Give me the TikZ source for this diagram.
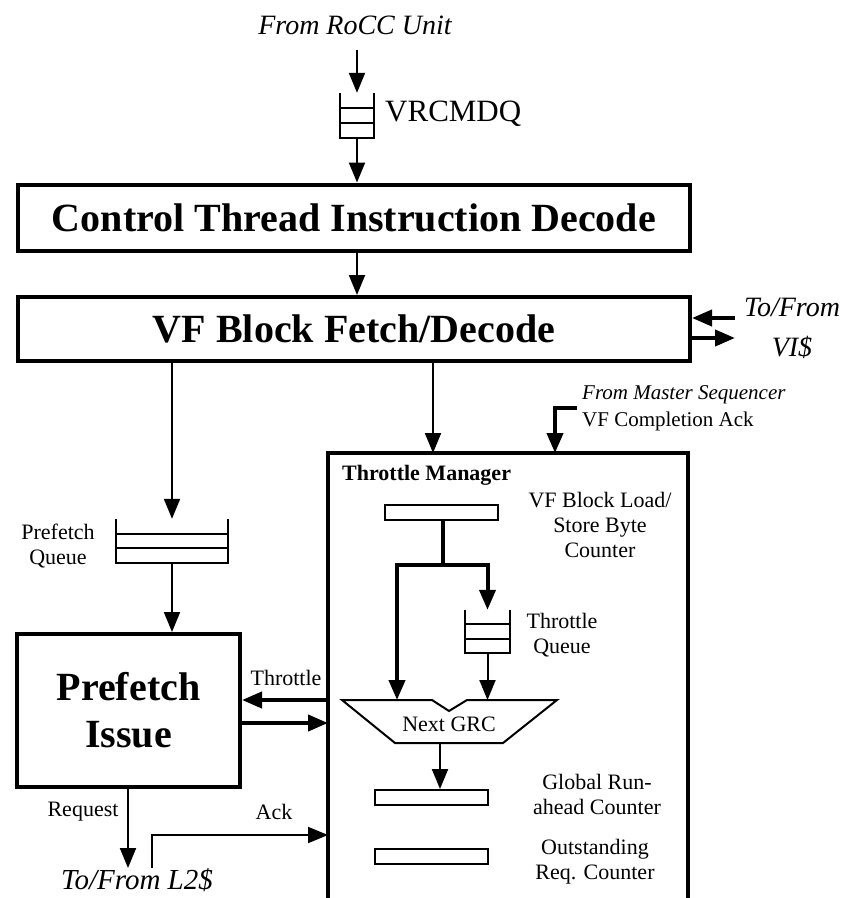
\documentclass[tikz,border=0pt]{standalone}
\usepackage{fontspec}
\setmainfont{Liberation Serif}
\usetikzlibrary{arrows.meta,calc}
\newcommand\queuelines[1]{%
  \draw[thinln] (#1.north west) -- (#1.south west) -- (#1.south east) -- (#1.north east);
  \draw[thinln] ($(#1.north west)!1/3!(#1.south west)$) -- ($(#1.north east)!1/3!(#1.south east)$);
  \draw[thinln] ($(#1.north west)!2/3!(#1.south west)$) -- ($(#1.north east)!2/3!(#1.south east)$);
}
\begin{document}
\begin{tikzpicture}[x=1pt,y=-1pt,
  bigbox/.style={draw,line width=4pt,inner sep=0pt,align=center},
  thinln/.style={line width=2pt},
  arr/.style={line width=2pt,-{Triangle[length=20pt,width=16pt]}},
  tarr/.style={line width=4pt,-{Triangle[length=20pt,width=16pt]}},
  lbl/.style={font=\fontsize{22}{25}\selectfont,align=center,inner sep=0pt},
  qnode/.style={inner sep=0pt,minimum width=#1},
  ctr/.style={draw,line width=2pt,inner sep=0pt,minimum width=113pt,minimum height=15pt},
]
\useasboundingbox (0,0) rectangle (847,898);

% top input
\node[font=\itshape\fontsize{28}{30}\selectfont,inner sep=0pt] (rocc) at (355,25) {From RoCC Unit};
\node[qnode=34pt,minimum height=45pt] (vrq) at (357,115.5) {};
\queuelines{vrq}
\node[font=\fontsize{31}{34}\selectfont,anchor=west,inner sep=0pt] (vrqlbl) at (385,114) {VRCMDQ};
\coordinate (roccout) at (357,50);
\draw[arr] (roccout) -- (vrq.north);

% big boxes
\node[bigbox,minimum width=672pt,minimum height=66pt,font=\bfseries\fontsize{40}{44}\selectfont] (ctid) at (354,217.5) {Control Thread Instruction Decode};
\node[bigbox,minimum width=672pt,minimum height=64pt,font=\bfseries\fontsize{40}{44}\selectfont] (vf) at (354,329) {VF Block Fetch/Decode};
\draw[arr] (vrq.south) -- (vrq.south |- ctid.north);
\draw[arr] (ctid.south -| vrq.south) -- (vf.north -| vrq.south);

% VI$
\coordinate (vi1) at (735,318);
\coordinate (vi2) at (735,338);
\draw[tarr] (vi1) -- (vi1 -| vf.east);
\draw[tarr] (vi2 -| vf.east) -- (vi2);
\node[font=\itshape\fontsize{28}{40}\selectfont,align=center,inner sep=0pt] (vilbl) at (792,328) {To/From\\VI\$};

% prefetch queue
\node[qnode=112pt,minimum height=44pt] (pq) at (172,541) {};
\queuelines{pq}
\node[lbl] (pqlbl) at (58,546) {Prefetch\\Queue};
\draw[arr] (vf.south -| pq.north) -- (pq.north);

% prefetch issue
\node[bigbox,minimum width=223pt,minimum height=153pt,font=\bfseries\fontsize{40}{47}\selectfont] (pi) at (128.5,710.5) {Prefetch\\Issue};
\draw[arr] (pq.south) -- (pq.south |- pi.north);

% throttle manager box
\coordinate (tmnw) at (328,453);
\coordinate (tmne) at (688,453);
\coordinate (tmsw) at (328,900);
\coordinate (tmse) at (688,900);
\draw[line width=4pt] (tmsw) -- (tmnw) -- (tmne) -- (tmse);
\node[font=\bfseries\fontsize{22}{24}\selectfont,anchor=west,inner sep=0pt] (tmlbl) at (342,475) {Throttle Manager};
\coordinate (tmin) at (433,453);
\draw[arr] (vf.south -| tmin) -- (tmin);

% master sequencer
\coordinate (ms) at (577,408);
\coordinate (msin) at (555,453);
\draw[tarr] (ms) -| (msin);
\node[font=\fontsize{21}{27}\selectfont,align=left,anchor=west,inner sep=0pt] (mslbl) at (582,408) {\textit{From Master Sequencer}\\VF Completion Ack};

% throttle / ack / request
\coordinate (thr1) at (328,700);
\coordinate (thr2) at (328,723);
\draw[tarr] (thr1) -- (thr1 -| pi.east);
\draw[tarr] (thr2 -| pi.east) -- (thr2);
\node[lbl] (thrlbl) at (286,678) {Throttle};
\coordinate (req) at (128,868);
\draw[arr] (pi.south -| req) -- (req);
\node[lbl] (reqlbl) at (83,812) {Request};
\coordinate (ackst) at (152,868);
\coordinate (ackin) at (328,835);
\draw[arr] (ackst) |- (ackin);
\node[lbl] (acklbl) at (274,812) {Ack};
\node[font=\itshape\fontsize{29}{31}\selectfont,inner sep=0pt] (l2lbl) at (137,880) {To/From L2\$};

% inner: VF block counter
\node[ctr] (vfc) at (441.5,512.5) {};
\node[lbl] (vfclbl) at (600,525) {VF Block Load/\\Store Byte\\Counter};
\coordinate (br) at (443,565);
\coordinate (muxl) at (397,700);
\draw[line width=4pt] (vfc.south -| br) -- (br);
\draw[tarr] (br) -| (muxl);
\node[qnode=45pt,minimum height=43pt] (tq) at (487.5,631.5) {};
\queuelines{tq}
\draw[tarr] (br) -| (tq.north);
\node[lbl] (tqlbl) at (562,635) {Throttle\\Queue};

% mux
\coordinate (m1) at (342,700);
\coordinate (m2) at (432,700);
\coordinate (m3) at (449,711);
\coordinate (m4) at (467,700);
\coordinate (m5) at (557,700);
\coordinate (m6) at (503,743);
\coordinate (m7) at (395,743);
\draw[thinln,line join=miter] (m1) -- (m2) -- (m3) -- (m4) -- (m5) -- (m6) -- (m7) -- cycle;
\node[lbl] (mux) at (449,724) {Next GRC};
\draw[arr] (tq.south) -- (tq.south |- m4);

% counters
\node[ctr] (grc) at (431.5,797.5) {};
\coordinate (muxout) at (440,743);
\draw[arr] (muxout) -- (muxout |- grc.north);
\node[lbl] (grclbl) at (597,794) {Global Run-\\ahead Counter};
\node[ctr] (orc) at (431.5,856.5) {};
\node[lbl] (orclbl) at (595,862) {Outstanding\\Req. Counter};
\end{tikzpicture}
\end{document}
